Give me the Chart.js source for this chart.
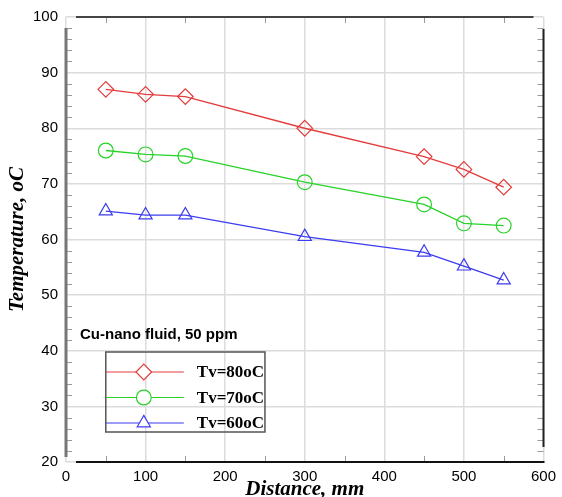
<!DOCTYPE html>
<html>
<head>
<meta charset="utf-8">
<script src="https://cdn.jsdelivr.net/npm/chart.js@4.4.0/dist/chart.umd.min.js"></script>
<style>
  html, body { margin: 0; padding: 0; background: #fff; }
  #wrap { width: 562px; height: 497px; }
</style>
</head>
<body>
<div id="wrap"><canvas id="chart" width="562" height="497"></canvas></div>
<script>
// distances along the pipe, mm
const distances = [50, 100, 150, 300, 450, 500, 550];
// temperatures for each vapour temperature
const temp80 = [87.0, 86.1, 85.7, 80.0, 74.9, 72.6, 69.4];
const temp70 = [76.0, 75.3, 75.0, 70.3, 66.3, 62.9, 62.5];
const temp60 = [65.1, 64.4, 64.4, 60.5, 57.7, 55.2, 52.7];
const seriesLabels = ['Tv=80oC', 'Tv=70oC', 'Tv=60oC'];
const chartNote = 'Cu-nano fluid, 50 ppm';

const colors = ['rgb(228,60,60)', 'rgb(40,210,40)', 'rgb(60,60,240)'];
const shapes = ['rectRot', 'circle', 'triangle'];
const radii = [7.8, 7.4, 7.6];

function toPoints(ys) {
    return distances.map((x, i) => ({ x: x, y: ys[i] }));
}

const datasets = [temp80, temp70, temp60].map((ys, i) => ({
    label: seriesLabels[i],
    data: toPoints(ys),
    borderColor: colors[i],
    borderWidth: 1.3,
    backgroundColor: 'rgba(0,0,0,0)',
    pointStyle: shapes[i],
    pointRadius: radii[i],
    pointBorderColor: colors[i],
    pointBorderWidth: 1.2,
    pointBackgroundColor: 'rgba(0,0,0,0)',
    tension: 0
}));

// minor ticks, frame, note and legend box
const decorations = {
    id: 'decorations',
    afterDraw(chart) {
        const ctx = chart.ctx;
        const a = chart.chartArea;
        const xs = chart.scales.x, ys = chart.scales.y;
        ctx.save();
        ctx.strokeStyle = '#999';
        ctx.lineWidth = 1;
        for (let v = 22; v < 100; v += 2) {
            if (v % 10 === 0) continue;
            const py = Math.round(ys.getPixelForValue(v)) + 0.5;
            ctx.beginPath();
            ctx.moveTo(a.left, py); ctx.lineTo(a.left + 6, py);
            ctx.moveTo(a.right, py); ctx.lineTo(a.right - 6, py);
            ctx.stroke();
        }
        for (let v = 50; v < 600; v += 100) {
            const px = Math.round(xs.getPixelForValue(v)) + 0.5;
            ctx.beginPath();
            ctx.moveTo(px, a.bottom); ctx.lineTo(px, a.bottom - 6);
            ctx.moveTo(px, a.top); ctx.lineTo(px, a.top + 6);
            ctx.stroke();
        }
        // frame
        ctx.lineWidth = 2;
        ctx.strokeStyle = '#444';
        ctx.beginPath();
        ctx.moveTo(a.left + 10, a.top);
        ctx.lineTo(a.right - 10, a.top);
        ctx.stroke();
        ctx.strokeStyle = '#222';
        ctx.beginPath();
        ctx.moveTo(a.right, a.top + 12);
        ctx.lineTo(a.right, a.bottom - 15);
        ctx.stroke();
        ctx.strokeStyle = '#111';
        ctx.beginPath();
        ctx.moveTo(a.left + 10, a.bottom);
        ctx.lineTo(a.right + 1, a.bottom);
        ctx.stroke();
        ctx.strokeStyle = '#777';
        ctx.lineWidth = 3;
        ctx.beginPath();
        ctx.moveTo(a.left, a.top + 11);
        ctx.lineTo(a.left, a.bottom - 5);
        ctx.stroke();

        // note
        ctx.fillStyle = '#000';
        ctx.font = 'bold 15px "Liberation Sans", Arial, sans-serif';
        ctx.textBaseline = 'middle';
        ctx.textAlign = 'left';
        ctx.fillText(chartNote, 80, 335);

        // legend box
        const bx = xs.getPixelForValue(50), bw = xs.getPixelForValue(250) - bx;
        const by = 352, bh = 80;
        ctx.strokeStyle = '#555';
        ctx.lineWidth = 1.5;
        ctx.strokeRect(bx, by, bw, bh);
        datasets.forEach((ds, i) => {
            const ly = 372 + i * 25.5;
            ctx.strokeStyle = ds.borderColor;
            ctx.lineWidth = 1.2;
            ctx.beginPath();
            ctx.moveTo(bx, ly); ctx.lineTo(bx + 78, ly);
            ctx.stroke();
            ctx.fillStyle = '#fff';
            Chart.helpers.drawPoint(ctx, {
                pointStyle: ds.pointStyle,
                radius: ds.pointRadius,
                borderWidth: 1.2
            }, bx + 38, ly);
            ctx.fillStyle = '#000';
            ctx.font = 'bold 17px "Liberation Serif", "Times New Roman", serif';
            ctx.fillText(ds.label, bx + 91, ly + 1);
        });
        ctx.restore();
    }
};

const ctx = document.getElementById('chart').getContext('2d');
new Chart(ctx, {
    type: 'line',
    data: { datasets: datasets },
    options: {
        responsive: false,
        animation: false,
        layout: { padding: { top: 17, right: 16, left: 0, bottom: 0 } },
        plugins: { legend: { display: false }, tooltip: { enabled: false } },
        scales: {
            x: {
                type: 'linear',
                min: 0, max: 600,
                afterFit(s) { s.height = 35; },
                ticks: {
                    stepSize: 100,
                    color: '#000',
                    padding: 6,
                    font: { family: '"Liberation Sans", Arial, sans-serif', size: 15 }
                },
                grid: { color: '#dcdcdc', lineWidth: 1.5, drawTicks: false },
                border: { display: false },
                title: {
                    display: true,
                    text: 'Distance, mm',
                    color: '#000',
                    padding: { top: 0, bottom: -3 },
                    font: { family: '"Liberation Serif", "Times New Roman", serif', size: 21, style: 'italic', weight: 'bold', lineHeight: 1 }
                }
            },
            y: {
                min: 20, max: 100,
                afterFit(s) { s.width = 66; },
                ticks: {
                    stepSize: 10,
                    color: '#000',
                    padding: 8,
                    font: { family: '"Liberation Sans", Arial, sans-serif', size: 15 }
                },
                grid: { color: '#dcdcdc', lineWidth: 1.5, drawTicks: false },
                border: { display: false },
                title: {
                    display: true,
                    text: 'Temperature, oC',
                    color: '#000',
                    padding: { top: 7, bottom: 0 },
                    font: { family: '"Liberation Serif", "Times New Roman", serif', size: 21, style: 'italic', weight: 'bold', lineHeight: 1 }
                }
            }
        }
    },
    plugins: [decorations]
});
</script>
</body>
</html>
